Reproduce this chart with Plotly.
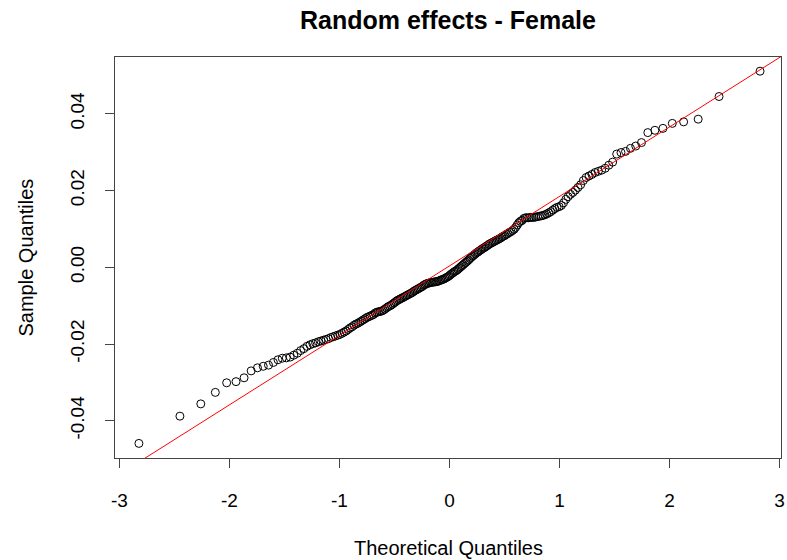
import plotly.graph_objects as go
from statistics import NormalDist
import numpy as np

# Sorted random-effect estimates (sample quantiles), in units of 1e-4
sample_e4 = [
    -459, -388, -356, -326, -301, -298, -288, -270, -262, -258,
    -255, -248, -241, -237, -236, -234, -229, -224, -217, -212,
    -206, -202, -199, -197, -194, -192, -190, -188, -186, -183,
    -181, -179, -177, -175, -172, -169, -166, -162, -158, -155,
    -151, -148, -146, -143, -140, -137, -134, -131, -129, -127,
    -125, -123, -119, -117, -116, -115, -114, -112, -109, -106,
    -103, -101, -99, -96, -93, -90, -87, -85, -83, -81,
    -79, -77, -75, -73, -71, -69, -67, -65, -62, -60,
    -58, -56, -54, -52, -50, -47, -45, -43, -42, -41,
    -40, -39, -39, -38, -38, -37, -36, -35, -33, -32,
    -31, -29, -27, -25, -23, -20, -17, -15, -12, -10,
    -8, -5, -2, 1, 4, 7, 10, 13, 16, 19,
    23, 26, 29, 32, 35, 38, 40, 43, 45, 48,
    50, 52, 55, 57, 60, 62, 64, 66, 68, 70,
    72, 74, 76, 79, 81, 83, 86, 88, 91, 93,
    96, 99, 104, 110, 116, 120, 122, 127, 129, 129,
    129, 130, 130, 130, 131, 132, 133, 134, 135, 137,
    139, 142, 145, 149, 153, 156, 158, 161, 168, 177,
    184, 190, 195, 201, 208, 215, 226, 234, 238, 242,
    247, 250, 253, 258, 266, 274, 295, 299, 302, 310,
    316, 325, 351, 357, 362, 375, 379, 386, 445, 511,
]
sample = np.array(sample_e4, dtype=float) / 1e4

x_ticks = [-3, -2, -1, 0, 1, 2, 3]
x_tick_text = ["-3", "-2", "-1", "0", "1", "2", "3"]
y_ticks = [-0.04, -0.02, 0.00, 0.02, 0.04]
y_tick_text = ["-0.04", "-0.02", "0.00", "0.02", "0.04"]

# Normal scores, as in qqnorm (ppoints with a = 0.5 for n > 10)
n = len(sample)
nd = NormalDist()
theo = np.array([nd.inv_cdf((i + 0.5) / n) for i in range(n)])

# Reference line through the first and third quartiles (qqline)
q1, q3 = np.quantile(sample, [0.25, 0.75])
z1, z3 = nd.inv_cdf(0.25), nd.inv_cdf(0.75)
slope = (q3 - q1) / (z3 - z1)
intercept = q1 - slope * z1
line_x = np.array([-3.5, 3.5])
line_y = intercept + slope * line_x

font = "Liberation Sans, Arial, sans-serif"

fig = go.Figure()
fig.add_trace(go.Scatter(
    x=theo, y=sample, mode="markers",
    marker=dict(symbol="circle-open", size=8, color="black",
                line=dict(width=1, color="black")),
    showlegend=False, hoverinfo="x+y",
))
fig.add_trace(go.Scatter(
    x=line_x, y=line_y, mode="lines",
    line=dict(color="red", width=1),
    showlegend=False, hoverinfo="skip",
))

axis_common = dict(
    showgrid=False, zeroline=False, showline=True, mirror=True,
    linecolor="#444444", linewidth=1,
    ticks="outside", ticklen=9, tickcolor="#444444", tickwidth=1,
    tickfont=dict(family=font, size=19, color="black"),
    ticklabeloverflow="allow",
)

fig.update_layout(
    width=787, height=560,
    margin=dict(l=115, r=2, t=57, b=102),
    paper_bgcolor="white", plot_bgcolor="white",
    xaxis=dict(range=[-3.040, 3.013], tickvals=x_ticks,
               ticktext=x_tick_text,
               ticklabelstandoff=16, **axis_common),
    yaxis=dict(range=[-0.0497, 0.0548], tickvals=y_ticks,
               ticktext=y_tick_text, tickangle=-90,
               ticklabelstandoff=13, **axis_common),
    annotations=[
        dict(text="<b>Random effects - Female</b>", x=0.5, y=1,
             xref="paper", yref="paper", xanchor="center", yanchor="middle",
             yshift=37, showarrow=False,
             font=dict(family=font, size=25, color="black")),
        dict(text="Theoretical Quantiles", x=0.5, y=0,
             xref="paper", yref="paper", xanchor="center", yanchor="middle",
             yshift=-90, showarrow=False,
             font=dict(family=font, size=20, color="black")),
        dict(text="Sample Quantiles", x=0, y=0.5,
             xref="paper", yref="paper", xanchor="center", yanchor="middle",
             xshift=-90, textangle=-90, showarrow=False,
             font=dict(family=font, size=20, color="black")),
    ],
)

fig.write_html("out.html")
